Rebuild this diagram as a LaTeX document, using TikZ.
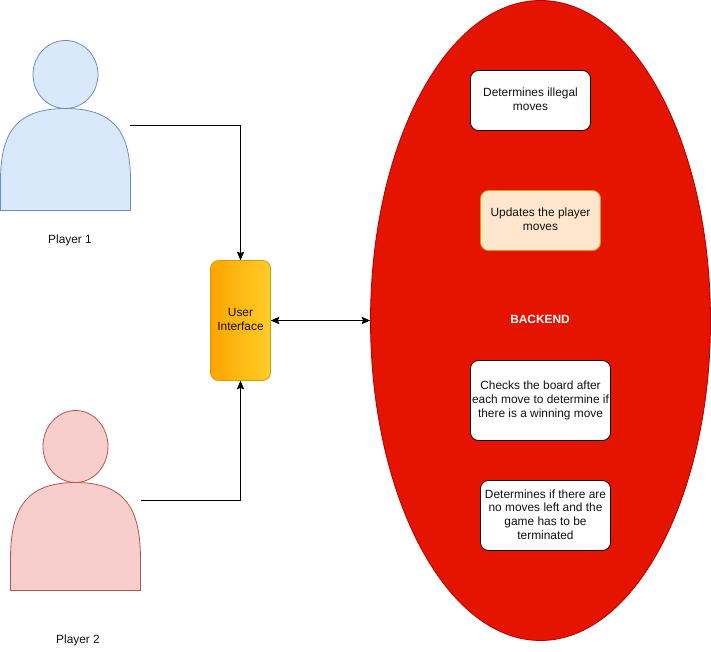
\documentclass[tikz,border=0pt]{standalone}
\usepackage{fontspec}
\setmainfont{Liberation Sans}
\usetikzlibrary{arrows.meta,shapes.geometric}
\definecolor{pblue}{HTML}{DAE8FC}\definecolor{pblueline}{HTML}{6C8EBF}
\definecolor{pred}{HTML}{F8CECC}\definecolor{predline}{HTML}{B85450}
\definecolor{uia}{HTML}{FFA500}\definecolor{uib}{HTML}{FFCD28}\definecolor{uiline}{HTML}{D79B00}
\definecolor{back}{HTML}{E51400}\definecolor{backline}{HTML}{B20000}\definecolor{upd}{HTML}{FFE6CC}
\definecolor{txt}{HTML}{111111}
\tikzset{
  every node/.style={font=\fontsize{11.9}{13.8}\selectfont,text=txt,align=center,inner sep=0pt},
  pone/.style={fill=pblue,draw=pblueline,line width=0.8pt},
  ptwo/.style={fill=pred,draw=predline,line width=0.8pt},
  taskbox/.style={draw=black,fill=white,rounded corners=8pt,line width=0.8pt,minimum width=120pt,minimum height=60pt},
  conn/.style={draw=black,line width=0.8pt,-{Stealth[length=8.5pt,width=7.5pt,inset=1.5pt]}},
  both/.style={draw=black,line width=0.8pt,{Stealth[length=8.5pt,width=7.5pt,inset=1.5pt]}-{Stealth[length=8.5pt,width=7.5pt,inset=1.5pt]}}
}
\newcommand{\personbody}[4]{% left x, top y, style, height
  \draw[#3] (#1,#2+#4) -- (#1,#2+#4*0.72)
    .. controls (#1,#2+#4*0.28) and (#1+12,#2) .. (#1+65,#2)
    .. controls (#1+118,#2) and (#1+130,#2+#4*0.28) .. (#1+130,#2+#4*0.72)
    -- (#1+130,#2+#4) -- cycle;}
\begin{document}
\begin{tikzpicture}[x=1pt,y=-1pt]
\useasboundingbox (0,0) rectangle (711,651);
% Player 1
\personbody{0.5}{108.5}{pone}{102}
\node[ellipse,pone,minimum width=65pt,minimum height=68pt] (head1) at (65.5,74.5) {};
\coordinate (p1out) at (130,125.5);
\node (lab1) at (70,240) {Player 1};
% Player 2
\personbody{10.5}{482.5}{ptwo}{108}
\node[ellipse,ptwo,minimum width=65pt,minimum height=72pt] (head2) at (75.5,446.5) {};
\coordinate (p2out) at (140.5,500.5);
\node (lab2) at (78,640) {Player 2};
% User interface
\node[rounded corners=8pt,left color=uia,right color=uib,draw=uiline,line width=0.8pt,minimum width=60pt,minimum height=120pt,text depth=2pt] (ui) at (240.5,320.5) {User\\Interface};
% Backend
\node[ellipse,draw=backline,fill=back,line width=0.8pt,minimum width=340pt,minimum height=640pt,inner sep=0pt] (backend) at (540.5,320.5) {};
\node[text=white,font=\fontsize{11.9}{13.8}\selectfont\bfseries] (blabel) at (540,319) {BACKEND};
\node[taskbox,text depth=2pt] (t1) at (530.5,100.5) {Determines illegal\\moves};
\node[taskbox,fill=upd,draw=uiline,text depth=2pt] (t2) at (540.5,220.5) {Updates the player\\moves};
\node[taskbox,minimum width=140pt,minimum height=80pt] (t3) at (540.5,400.5) {Checks the board after\\each move to determine if\\there is a winning move};
\node[taskbox,minimum width=130pt,minimum height=70pt,text depth=2pt] (t4) at (545.5,515.5) {Determines if there are\\no moves left and the\\game has to be\\terminated};
% Connectors
\draw[conn] (p1out) -| (ui.north);
\draw[conn] (p2out) -| (ui.south);
\draw[both] (ui.east) -- (backend.west);
\end{tikzpicture}
\end{document}
